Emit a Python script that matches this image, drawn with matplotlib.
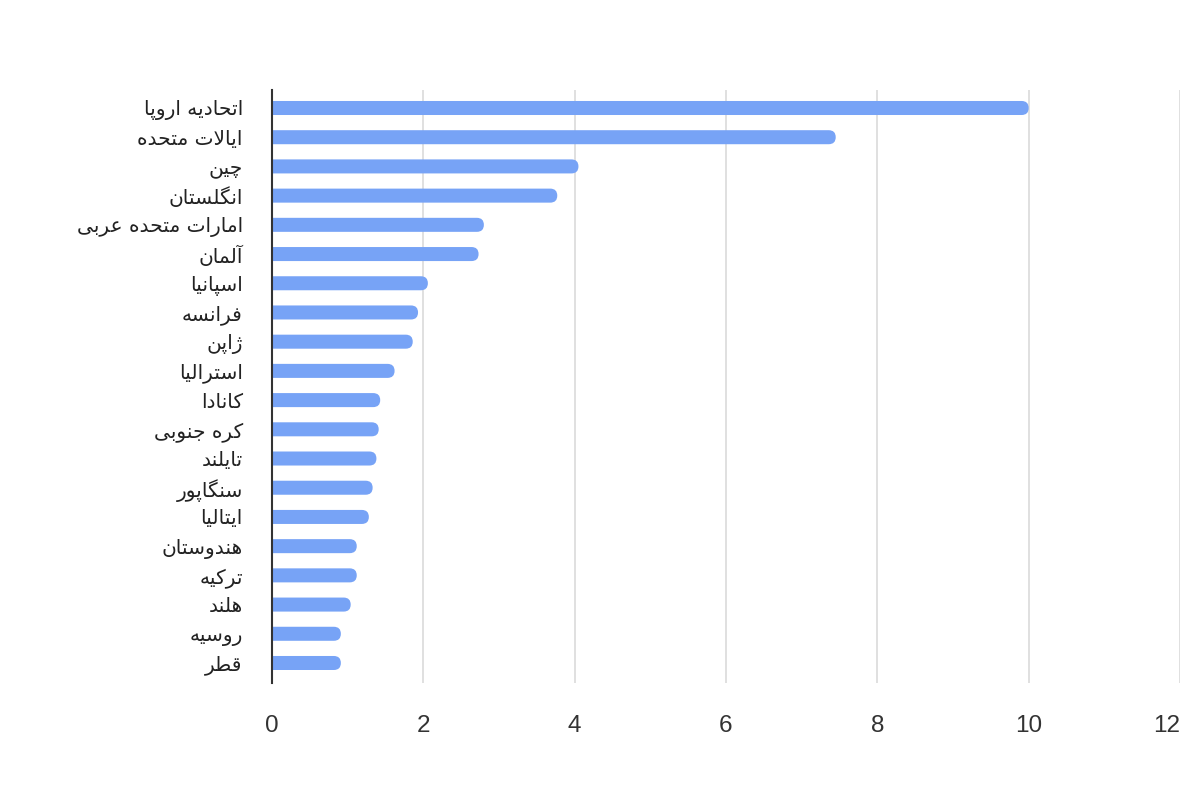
import matplotlib
matplotlib.use('Agg')
from matplotlib import pyplot as plt
from matplotlib.patches import FancyBboxPatch

# data
countries = ['اتحادیه اروپا', 'ایالات متحده', 'چین', 'انگلستان', 'امارات متحده عربی',
             'آلمان', 'اسپانیا', 'فرانسه', 'ژاپن', 'استرالیا', 'کانادا', 'کره جنوبی',
             'تایلند', 'سنگاپور', 'ایتالیا', 'هندوستان', 'ترکیه', 'هلند', 'روسیه', 'قطر']
values = [10.0, 7.45, 4.05, 3.77, 2.8, 2.73, 2.06, 1.93, 1.86, 1.62, 1.43, 1.41,
          1.38, 1.33, 1.28, 1.12, 1.12, 1.04, 0.91, 0.91]
x_ticks = [0, 2, 4, 6, 8, 10, 12]

# presentation forms: isolated, final, initial, medial (None = joins only to the right)
FORMS = {
    'ا': ('\uFE8D', '\uFE8E', None, None),
    'آ': ('\uFE81', '\uFE82', None, None),
    'ب': ('\uFE8F', '\uFE90', '\uFE91', '\uFE92'),
    'پ': ('\uFB56', '\uFB57', '\uFB58', '\uFB59'),
    'ت': ('\uFE95', '\uFE96', '\uFE97', '\uFE98'),
    'ج': ('\uFE9D', '\uFE9E', '\uFE9F', '\uFEA0'),
    'چ': ('\uFB7A', '\uFB7B', '\uFB7C', '\uFB7D'),
    'ح': ('\uFEA1', '\uFEA2', '\uFEA3', '\uFEA4'),
    'د': ('\uFEA9', '\uFEAA', None, None),
    'ر': ('\uFEAD', '\uFEAE', None, None),
    'ژ': ('\uFB8A', '\uFB8B', None, None),
    'س': ('\uFEB1', '\uFEB2', '\uFEB3', '\uFEB4'),
    'ط': ('\uFEC1', '\uFEC2', '\uFEC3', '\uFEC4'),
    'ع': ('\uFEC9', '\uFECA', '\uFECB', '\uFECC'),
    'ف': ('\uFED1', '\uFED2', '\uFED3', '\uFED4'),
    'ق': ('\uFED5', '\uFED6', '\uFED7', '\uFED8'),
    'ک': ('\uFB8E', '\uFB8F', '\uFB90', '\uFB91'),
    'گ': ('\uFB92', '\uFB93', '\uFB94', '\uFB95'),
    'ل': ('\uFEDD', '\uFEDE', '\uFEDF', '\uFEE0'),
    'م': ('\uFEE1', '\uFEE2', '\uFEE3', '\uFEE4'),
    'ن': ('\uFEE5', '\uFEE6', '\uFEE7', '\uFEE8'),
    'ه': ('\uFEE9', '\uFEEA', '\uFEEB', '\uFEEC'),
    'و': ('\uFEED', '\uFEEE', None, None),
    'ی': ('\uFBFC', '\uFBFD', '\uFBFE', '\uFBFF'),
}
LAM_ALEF = {'ا': ('\uFEFB', '\uFEFC'), 'آ': ('\uFEF5', '\uFEF6')}


def shape(text):
    # matplotlib has no arabic shaping, so pick the forms by hand and reverse
    out = []
    i = 0
    n = len(text)
    while i < n:
        c = text[i]
        if c not in FORMS:
            out.append(c)
            i += 1
            continue
        prev = text[i - 1] if i > 0 else ''
        prev_joins = prev in FORMS and FORMS[prev][2] is not None
        nxt = text[i + 1] if i + 1 < n else ''
        if c == 'ل' and nxt in LAM_ALEF:
            out.append(LAM_ALEF[nxt][1 if prev_joins else 0])
            i += 2
            continue
        next_joins = FORMS[c][2] is not None and nxt in FORMS
        iso, fin, ini, med = FORMS[c]
        if prev_joins and next_joins:
            out.append(med)
        elif prev_joins:
            out.append(fin)
        elif next_joins:
            out.append(ini)
        else:
            out.append(iso)
        i += 1
    return ''.join(out)[::-1]


W, H = 1200, 800
fig = plt.figure(figsize=(W / 100, H / 100), dpi=100)
left, right, bottom, top = 272 / W, 1180 / W, 1 - 683 / H, 1 - 90 / H
ax = fig.add_axes([left, bottom, right - left, top - bottom])

ypos = list(range(len(values)))
ax.set_xlim(0, 12)
ax.set_ylim(len(values) - 1 + 0.685, -0.616)

# rounded bar ends, radius worked out from pixels per data unit
bar_h = 0.48
px_x = W * (right - left) / 12
px_y = H * (top - bottom) / (len(values) - 1 + 0.685 + 0.616)
r_y = bar_h / 2
r_x = r_y * px_y / px_x
for y, v in zip(ypos, values):
    p = FancyBboxPatch((-0.5, y - bar_h / 2), v + 0.5, bar_h,
                       boxstyle='round,pad=0,rounding_size=%f' % r_x,
                       mutation_aspect=r_y / r_x,
                       facecolor='#77A3F6', edgecolor='none', zorder=3)
    ax.add_patch(p)

ax.set_yticks(ypos)
ax.set_yticklabels([shape(c) for c in countries], family=['DejaVu Sans'],
                   fontsize=14.5, color='#222222')
ax.set_xticks(x_ticks)
xlabels = ax.set_xticklabels([str(t) for t in x_ticks], family=['Liberation Sans', 'DejaVu Sans'],
                             fontsize=17.5, color='#333333')
# last label is kept inside the chart, like the original
xlabels[-1].set_horizontalalignment('right')
ax.tick_params(axis='y', length=0, pad=21)
ax.tick_params(axis='x', length=0, pad=23)

ax.grid(axis='x', color='#DDDDDD', linewidth=1.3, zorder=0)
ax.set_axisbelow(True)
for s in ['top', 'right', 'bottom']:
    ax.spines[s].set_visible(False)
ax.spines['left'].set_color('#333333')
ax.spines['left'].set_linewidth(1.5)
ax.spines['left'].set_zorder(4)

plt.savefig('out.png', dpi=100)
